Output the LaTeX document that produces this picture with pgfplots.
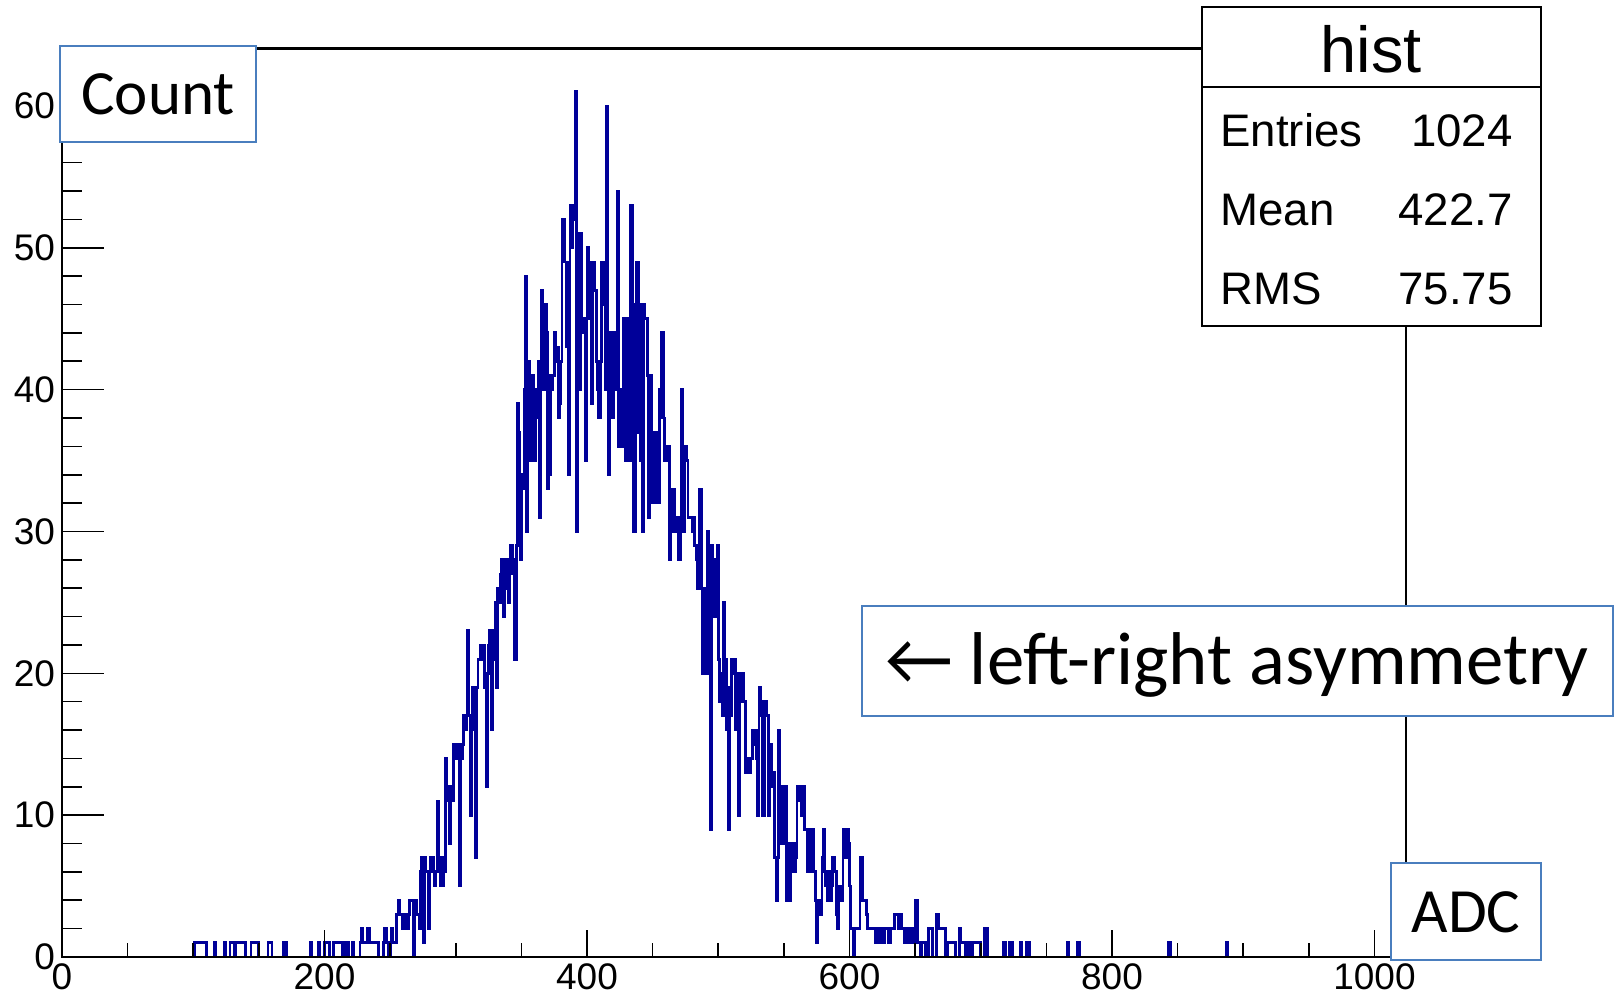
\documentclass[border=0pt]{standalone}
\usepackage{fontspec}
\setmainfont{Liberation Sans}
\newfontfamily\calibri{Carlito}
\usepackage{pgfplots}
\pgfplotsset{compat=1.18}
\usepackage{pgfplotstable}
\definecolor{histblue}{RGB}{0,0,153}
\definecolor{boxblue}{RGB}{74,126,190}

% bin contents, ADC channels 100 ... 900 (bin width 1)
\pgfplotstableread[row sep=\\]{
y\\
0\\1\\1\\1\\1\\1\\1\\1\\1\\1\\
0\\0\\0\\0\\0\\0\\1\\0\\0\\0\\
0\\0\\0\\0\\1\\0\\0\\0\\1\\1\\
1\\0\\1\\1\\1\\1\\1\\1\\1\\1\\
0\\0\\0\\0\\1\\1\\1\\1\\1\\1\\
0\\0\\0\\0\\0\\0\\0\\1\\1\\1\\
0\\0\\0\\0\\0\\0\\0\\0\\0\\1\\
1\\0\\0\\0\\0\\0\\0\\0\\0\\0\\
0\\0\\0\\0\\0\\0\\0\\0\\0\\1\\
0\\0\\0\\0\\0\\1\\0\\0\\0\\0\\
1\\1\\1\\1\\0\\0\\0\\1\\1\\1\\
1\\1\\1\\1\\0\\1\\0\\1\\0\\0\\
0\\1\\0\\0\\0\\0\\0\\1\\2\\1\\
1\\1\\1\\2\\1\\1\\1\\1\\1\\1\\
1\\0\\0\\0\\0\\1\\2\\1\\1\\0\\
1\\2\\1\\1\\1\\3\\4\\3\\3\\2\\
3\\3\\2\\2\\3\\4\\4\\4\\0\\4\\
3\\3\\2\\6\\7\\1\\7\\6\\6\\2\\
6\\7\\7\\6\\5\\6\\11\\6\\5\\7\\
5\\6\\14\\12\\11\\8\\12\\11\\15\\14\\
15\\14\\15\\5\\14\\15\\17\\16\\17\\23\\
17\\10\\16\\19\\17\\7\\19\\21\\21\\22\\
21\\22\\19\\12\\20\\22\\23\\16\\23\\21\\
25\\19\\26\\25\\27\\28\\24\\26\\28\\27\\
25\\28\\29\\27\\28\\21\\29\\39\\37\\28\\
34\\33\\40\\48\\30\\42\\41\\35\\41\\36\\
35\\40\\38\\42\\31\\47\\46\\40\\46\\44\\
33\\34\\41\\40\\41\\44\\42\\43\\38\\39\\
42\\52\\52\\49\\43\\49\\34\\53\\50\\53\\
52\\61\\30\\51\\40\\51\\44\\45\\44\\35\\
50\\45\\49\\39\\47\\49\\47\\42\\40\\38\\
42\\49\\46\\49\\40\\60\\34\\42\\44\\38\\
44\\40\\44\\54\\36\\40\\36\\38\\45\\35\\
45\\44\\35\\53\\53\\30\\30\\46\\49\\37\\
46\\35\\30\\46\\45\\45\\41\\31\\41\\32\\
37\\32\\37\\36\\32\\40\\38\\44\\38\\35\\
36\\35\\36\\28\\33\\30\\33\\31\\30\\31\\
28\\31\\40\\30\\36\\36\\35\\31\\31\\31\\
30\\31\\29\\28\\26\\29\\33\\26\\20\\26\\
25\\20\\30\\26\\9\\29\\24\\28\\24\\29\\
21\\18\\20\\17\\25\\21\\16\\19\\9\\17\\
21\\20\\21\\16\\20\\10\\20\\18\\20\\18\\
18\\13\\14\\13\\13\\14\\16\\15\\16\\14\\
10\\19\\17\\18\\10\\17\\18\\17\\10\\15\\
15\\12\\13\\7\\4\\7\\16\\12\\8\\12\\
8\\12\\4\\8\\4\\8\\6\\8\\6\\7\\
12\\11\\12\\10\\11\\12\\9\\9\\6\\9\\
9\\6\\9\\6\\4\\1\\4\\4\\3\\7\\
9\\6\\5\\4\\6\\4\\5\\7\\7\\6\\
3\\2\\5\\5\\4\\9\\9\\7\\9\\8\\
5\\2\\2\\0\\2\\2\\2\\2\\7\\7\\
4\\4\\4\\3\\2\\2\\2\\2\\2\\2\\
1\\2\\2\\1\\2\\2\\1\\2\\2\\2\\
1\\2\\2\\2\\3\\3\\3\\2\\3\\3\\
2\\2\\1\\2\\1\\2\\2\\1\\2\\1\\
4\\4\\1\\1\\0\\1\\1\\1\\0\\0\\
2\\2\\2\\0\\0\\0\\3\\3\\2\\2\\
2\\2\\2\\0\\0\\1\\1\\1\\1\\1\\
1\\0\\0\\0\\2\\1\\1\\1\\0\\0\\
1\\1\\0\\0\\1\\1\\1\\1\\1\\1\\
0\\0\\0\\2\\2\\0\\0\\0\\0\\0\\
0\\0\\0\\0\\0\\0\\0\\1\\1\\0\\
0\\0\\1\\1\\0\\0\\0\\0\\0\\0\\
1\\0\\0\\0\\0\\1\\1\\0\\0\\0\\
0\\0\\0\\0\\0\\0\\0\\0\\0\\0\\
0\\0\\0\\0\\0\\0\\0\\0\\0\\0\\
0\\0\\0\\0\\0\\0\\1\\0\\0\\0\\
0\\0\\0\\0\\1\\0\\0\\0\\0\\0\\
0\\0\\0\\0\\0\\0\\0\\0\\0\\0\\
0\\0\\0\\0\\0\\0\\0\\0\\0\\0\\
0\\0\\0\\0\\0\\0\\0\\0\\0\\0\\
0\\0\\0\\0\\0\\0\\0\\0\\0\\0\\
0\\0\\0\\0\\0\\0\\0\\0\\0\\0\\
0\\0\\0\\0\\0\\0\\0\\0\\0\\0\\
0\\0\\0\\1\\1\\0\\0\\0\\0\\0\\
0\\0\\0\\0\\0\\0\\0\\0\\0\\0\\
0\\0\\0\\0\\0\\0\\0\\0\\0\\0\\
0\\0\\0\\0\\0\\0\\0\\0\\0\\0\\
0\\0\\0\\0\\0\\0\\0\\1\\0\\0\\
0\\0\\0\\0\\0\\0\\0\\0\\0\\0\\
0\\
}\histdata

\begin{document}
\begin{tikzpicture}[x=0.5pt,y=0.5pt]
\useasboundingbox (0,0) rectangle (1618,999);
\begin{axis}[
  at={(31pt,21pt)}, anchor=south west,
  scale only axis, width=672pt, height=454.25pt,
  xmin=0, xmax=1024, ymin=0, ymax=64.05,
  axis on top,
  axis line style={black, line width=1.4pt},
  xtick={0,200,...,1000}, minor x tick num=3,
  ytick={0,10,...,60}, minor y tick num=4,
  tick align=inside, xtick pos=bottom, ytick pos=left,
  xtick style={black, line width=0.8pt, /pgfplots/major tick length=13.5pt, /pgfplots/minor tick length=6.8pt},
  ytick style={black, line width=0.8pt, /pgfplots/major tick length=21pt, /pgfplots/minor tick length=10pt},
  tick label style={font=\fontsize{18.5}{20}\selectfont},
  /pgf/number format/assume math mode=true,
  /pgf/number format/1000 sep={},
  scaled ticks=false,
]
\addplot[const plot, histblue, line width=1.4pt] table[x expr=\coordindex+100, y=y] {\histdata};
\end{axis}

% Count label
\draw[boxblue, line width=1pt, fill=white] (60,953) rectangle (256,857);
\node[anchor=base, inner sep=0pt, font=\calibri\fontsize{31.5}{36}\selectfont] at (158,884) {Count};

% stats box
\draw[black, line width=0.8pt, fill=white] (1202,992) rectangle (1541,673);
\draw[black, line width=0.8pt] (1202,912) -- (1541,912);
\node[anchor=base, inner sep=0pt, font=\fontsize{32.5}{36}\selectfont] at (1371,926) {hist};
\begin{scope}[every node/.style={inner sep=0pt, font=\fontsize{22.8}{26}\selectfont}]
\node[anchor=base west] at (1220,852) {Entries};
\node[anchor=base east] at (1513,852) {1024};
\node[anchor=base west] at (1220,773) {Mean};
\node[anchor=base east] at (1513,773) {422.7};
\node[anchor=base west] at (1220,694) {RMS};
\node[anchor=base east] at (1513,694) {75.75};
\end{scope}

% asymmetry annotation
\draw[boxblue, line width=1pt, fill=white] (862,393) rectangle (1613,283);
\node[anchor=base, inner sep=0pt, font=\calibri\fontsize{37.4}{42}\selectfont] at (1237,314) {← left-right asymmetry};

% ADC label
\draw[boxblue, line width=1pt, fill=white] (1391,136) rectangle (1541,39);
\node[anchor=base, inner sep=0pt, font=\calibri\fontsize{31.5}{36}\selectfont] at (1466,66) {ADC};
\end{tikzpicture}
\end{document}
